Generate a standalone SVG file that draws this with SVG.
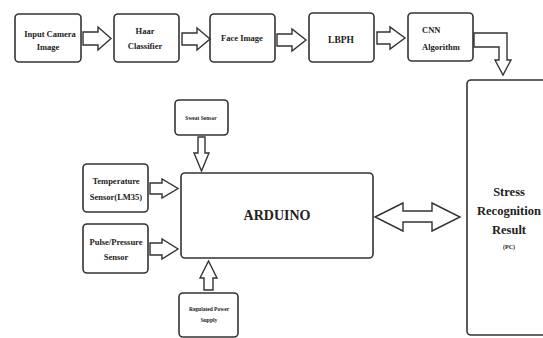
<svg xmlns="http://www.w3.org/2000/svg" width="543" height="338" viewBox="0 0 543 338">
<style>
.box{fill:#fff;stroke:#333;stroke-width:1.6}
.arr{fill:#fff;stroke:#333;stroke-width:1.4;stroke-linejoin:miter}
text{font-family:"Liberation Serif","Times New Roman",serif;font-weight:bold;fill:#222;text-anchor:middle}
.s8{font-size:8.5px}
.s9{font-size:9.5px}
.s5{font-size:5.5px}
.big{font-size:14px}
.res{font-size:12.5px}
</style>
<rect width="543" height="338" fill="#fff"/>
<g id="input-camera"><rect class="box" x="15" y="14" width="66" height="48" rx="4"/><text class="s8" x="50" y="37">Input Camera</text><text class="s8" x="48" y="50">Image</text></g>
<g id="haar"><rect class="box" x="114" y="14" width="65" height="48" rx="4"/><text class="s8" x="145" y="34">Haar</text><text class="s8" x="145" y="49">Classifier</text></g>
<g id="face-image"><rect class="box" x="210" y="14" width="65" height="48" rx="4"/><text class="s8" x="242" y="41">Face Image</text></g>
<g id="lbph"><rect class="box" x="309" y="13" width="65" height="49" rx="4"/><text class="s9" x="341" y="43">LBPH</text></g>
<g id="cnn"><rect class="box" x="408" y="13" width="65" height="48" rx="4"/><text class="s8" x="422" y="33" style="text-anchor:start">CNN</text><text class="s8" x="422" y="50" style="text-anchor:start">Algorithm</text></g>
<g id="result"><rect class="box" x="467" y="80" width="90" height="255" rx="4"/><text class="res" x="509" y="196">Stress</text><text class="res" x="509" y="215">Recognition</text><text class="res" x="509" y="234">Result</text><text class="s5" x="509" y="249" style="font-size:6px">(PC)</text></g>
<g id="sweat"><rect class="box" x="175" y="100" width="53" height="35" rx="4"/><text class="s5" x="201" y="120">Sweat Sensor</text></g>
<g id="temperature"><rect class="box" x="83" y="164" width="65" height="48" rx="4"/><text class="s8" x="116" y="184">Temperature</text><text class="s8" x="116" y="200">Sensor(LM35)</text></g>
<g id="pulse"><rect class="box" x="83" y="224" width="65" height="49" rx="4"/><text class="s8" x="116" y="245">Pulse/Pressure</text><text class="s8" x="116" y="260">Sensor</text></g>
<g id="arduino"><rect class="box" x="181" y="173" width="192" height="85" rx="4"/><text class="big" x="277" y="220">ARDUINO</text></g>
<g id="power"><rect class="box" x="179" y="293" width="59" height="44" rx="4"/><text class="s5" x="209" y="311">Regulated Power</text><text class="s5" x="209" y="322">Supply</text></g>
<g id="connectors">
<polygon class="arr" points="83,32 98,32 98,27 111,38.5 98,50 98,45 83,45"/>
<polygon class="arr" points="182,33 197,33 197,28 210,39 197,50 197,45 182,45"/>
<polygon class="arr" points="277,34 292,34 292,29 306,40 292,51 292,46 277,46"/>
<polygon class="arr" points="377,32 390,32 390,27 405,38 390,49 390,44 377,44"/>
<polygon class="arr" points="474,33 507,33 507,60 511,60 503,75 495,60 499,60 499,47 474,47"/>
<polygon class="arr" points="198,137 205,137 205,153 209,153 201.5,171 194,153 198,153"/>
<polygon class="arr" points="150,183 162,183 162,179 178,188.5 162,198 162,194 150,194"/>
<polygon class="arr" points="150,243 162,243 162,239 178,249 162,259 162,255 150,255"/>
<polygon class="arr" points="204,290 204,278 200,278 208.5,261 217,278 213,278 213,290"/>
<polygon class="arr" points="375,217 403,203 403,211 432,211 432,203 460,217 432,231 432,222 403,222 403,231"/>
</g>
</svg>
